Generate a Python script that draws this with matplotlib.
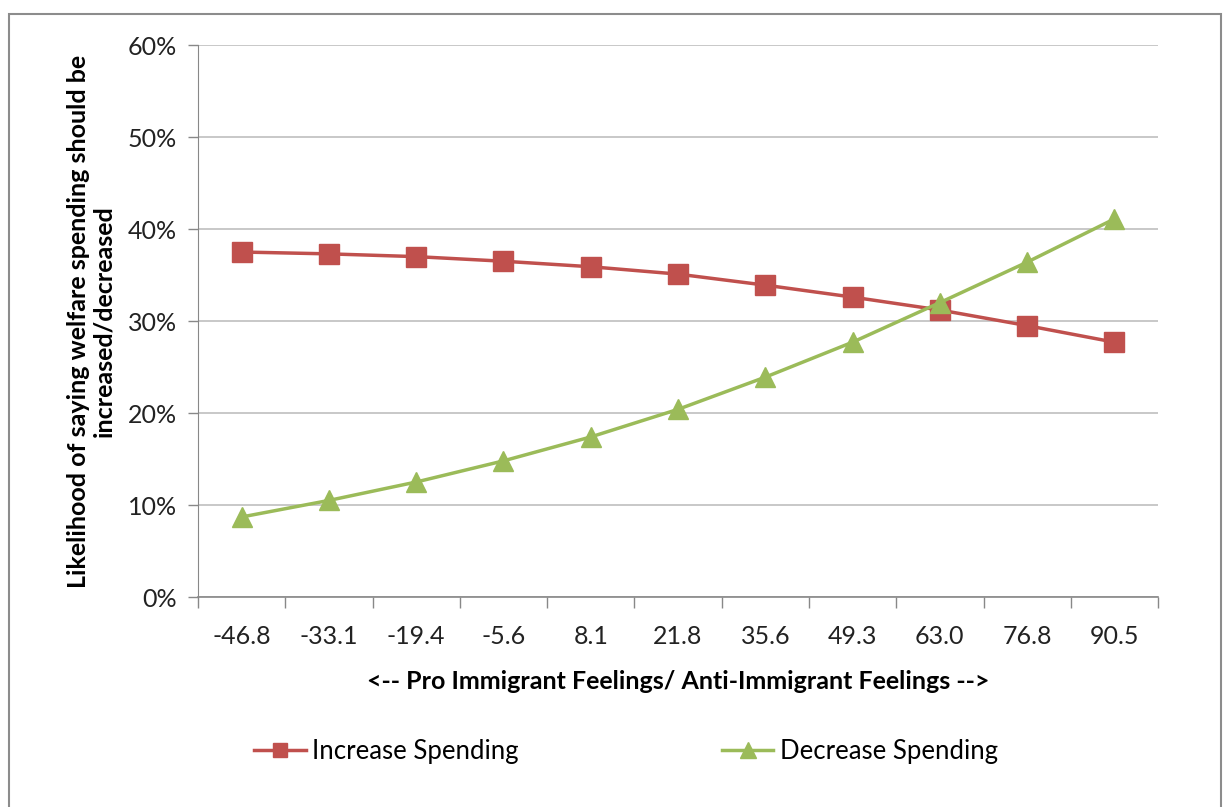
import matplotlib.pyplot as plt
from matplotlib.patches import Rectangle
from matplotlib.lines import Line2D
from matplotlib.ticker import PercentFormatter

plt.rcParams['font.family'] = ['Lato', 'DejaVu Sans']

categories = ['-46.8', '-33.1', '-19.4', '-5.6', '8.1', '21.8', '35.6', '49.3', '63.0', '76.8', '90.5']
increase = [37.5, 37.3, 37.0, 36.5, 35.9, 35.1, 33.9, 32.6, 31.2, 29.5, 27.7]
decrease = [8.7, 10.5, 12.5, 14.8, 17.4, 20.4, 23.9, 27.7, 32.0, 36.4, 41.1]

red = '#C0504D'
green = '#9BBB59'
grid_col = '#BFBFBF'

fig = plt.figure(figsize=(12.23, 8.07), dpi=100)
ax = fig.add_axes([0.1619, 0.2602, 0.785, 0.684])

x = list(range(len(categories)))
ax.plot(x, increase, color=red, lw=2.5, marker='s', ms=14, mec=red, mfc=red)
ax.plot(x, decrease, color=green, lw=2.5, marker='^', ms=15, mec=green, mfc=green)

ax.set_xlim(-0.5, len(categories) - 0.5)
ax.set_ylim(0, 60)
ax.set_yticks(range(0, 61, 10))
ax.yaxis.set_major_formatter(PercentFormatter(decimals=0))
ax.set_xticks(x)
ax.set_xticklabels(categories)
ax.set_xticks([i - 0.5 for i in range(len(categories) + 1)], minor=True)
ax.tick_params(axis='x', which='major', length=0, pad=20, labelsize=18, colors='#222222')
ax.tick_params(axis='x', which='minor', length=8, width=1, color='#888888', direction='out')
ax.tick_params(axis='y', length=7, width=1, color='#888888', labelsize=18, pad=8, labelcolor='#222222')

ax.grid(axis='y', color=grid_col, lw=1.2)
ax.set_axisbelow(True)
for s in ['top', 'right']:
    ax.spines[s].set_visible(False)
ax.spines['left'].set_color('#888888')
ax.spines['bottom'].set_color('#888888')
ax.spines['bottom'].set_linewidth(1.2)

ax.set_xlabel('<-- Pro Immigrant Feelings/ Anti-Immigrant Feelings -->',
              fontsize=18, fontweight='bold', labelpad=16)
ax.set_ylabel('Likelihood of saying welfare spending should be\nincreased/decreased',
              fontsize=18, fontweight='bold', labelpad=9, linespacing=1.15)

handles = [Line2D([], [], color=red, lw=2.5, marker='s', ms=10),
           Line2D([], [], color=green, lw=2.5, marker='^', ms=11)]
fig.legend(handles, ['Increase Spending', 'Decrease Spending'], loc='center',
           bbox_to_anchor=(0.512, 0.069), ncol=2, frameon=False, fontsize=18.5,
           columnspacing=7.9, handlelength=2.0, handletextpad=0.25)

fig.patches.append(Rectangle((0.007, -0.01), 0.991, 0.993, transform=fig.transFigure,
                             fill=False, edgecolor='#8C8C8C', lw=1.5))

fig.savefig('out.png', dpi=100)
